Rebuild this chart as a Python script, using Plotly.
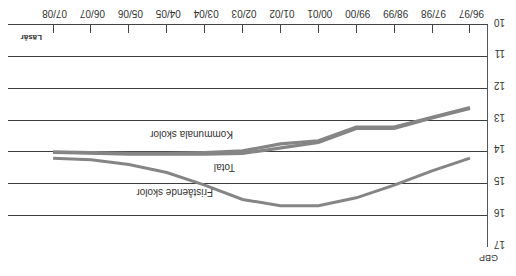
import plotly.graph_objects as go

# Data (chart is shown rotated 180 degrees, as in the reference)
years = ["96/97", "97/98", "98/99", "99/00", "00/01", "01/02",
         "02/03", "03/04", "04/05", "05/06", "06/07", "07/08"]
kommunala = [12.6, 12.9, 13.22, 13.22, 13.65, 13.75, 13.97, 14.02, 14.05, 14.05, 14.02, 14.0]
total = [12.63, 12.93, 13.26, 13.26, 13.7, 13.87, 14.05, 14.07, 14.08, 14.07, 14.04, 14.02]
fristaende = [14.2, 14.6, 15.05, 15.45, 15.7, 15.7, 15.5, 15.05, 14.65, 14.4, 14.25, 14.2]
y_ticks = [10, 11, 12, 13, 14, 15, 16, 17]

W, H = 516, 276
L, R, T, B = 8, 29, 25, 29
pw, ph = W - L - R, H - T - B


def px(x):
    return (x - L) / pw


def py(y):
    return 1 - (y - T) / ph


line_col = "#858585"
fig = go.Figure()
fig.add_trace(go.Scatter(x=years, y=total, mode="lines",
                         line=dict(color=line_col, width=3.2), name="Total"))
fig.add_trace(go.Scatter(x=years, y=kommunala, mode="lines",
                         line=dict(color=line_col, width=3.2), name="Kommunala skolor"))
fig.add_trace(go.Scatter(x=years, y=fristaende, mode="lines",
                         line=dict(color=line_col, width=3.0), name="Fristående skolor"))

font = "Liberation Sans, Arial, sans-serif"
fig.update_layout(
    width=W, height=H,
    margin=dict(l=L, r=R, t=T, b=B, pad=0),
    paper_bgcolor="white", plot_bgcolor="white",
    showlegend=False,
    font=dict(family=font, size=10, color="#333333"),
    xaxis=dict(
        type="category", categoryorder="array", categoryarray=years,
        range=[12.19, -0.45], side="top",
        showgrid=False, zeroline=False,
        showline=True, linecolor="#444444", linewidth=1.2,
        ticks="inside", ticklen=8, tickcolor="#444444", tickwidth=1,
        tickangle=180, ticklabelshift=-14,
        tickfont=dict(size=10, color="#333333"),
    ),
    yaxis=dict(
        range=[17, 10], side="right",
        tickvals=y_ticks, ticktext=[str(v) for v in y_ticks],
        showgrid=True, gridcolor="#3c3c3c", gridwidth=1.1,
        zeroline=False,
        showline=True, linecolor="#555555", linewidth=1.2,
        ticks="", tickangle=180, ticklabelstandoff=15,
        tickfont=dict(size=10, color="#333333"),
    ),
    annotations=[
        dict(text="Kommunala skolor", x=px(192), y=py(135), xref="paper", yref="paper",
             showarrow=False, textangle=180, font=dict(size=10, color="#333333")),
        dict(text="Total", x=px(225), y=py(168), xref="paper", yref="paper",
             showarrow=False, textangle=180, font=dict(size=10, color="#333333")),
        dict(text="Fristående skolor", x=px(175), y=py(200), xref="paper", yref="paper",
             showarrow=False, textangle=180, font=dict(size=10, color="#333333")),
        dict(text="GBP", x=px(500), y=py(265), xref="paper", yref="paper",
             showarrow=False, textangle=180, font=dict(size=9, color="#333333")),
        dict(text="<b>Läsår</b>", x=px(19), y=py(31), xref="paper", yref="paper",
             showarrow=False, textangle=180, font=dict(size=8, color="#333333")),
    ],
)

fig.write_html("out.html", config={"displayModeBar": False},
               post_script="document.body.style.margin='0px';")
